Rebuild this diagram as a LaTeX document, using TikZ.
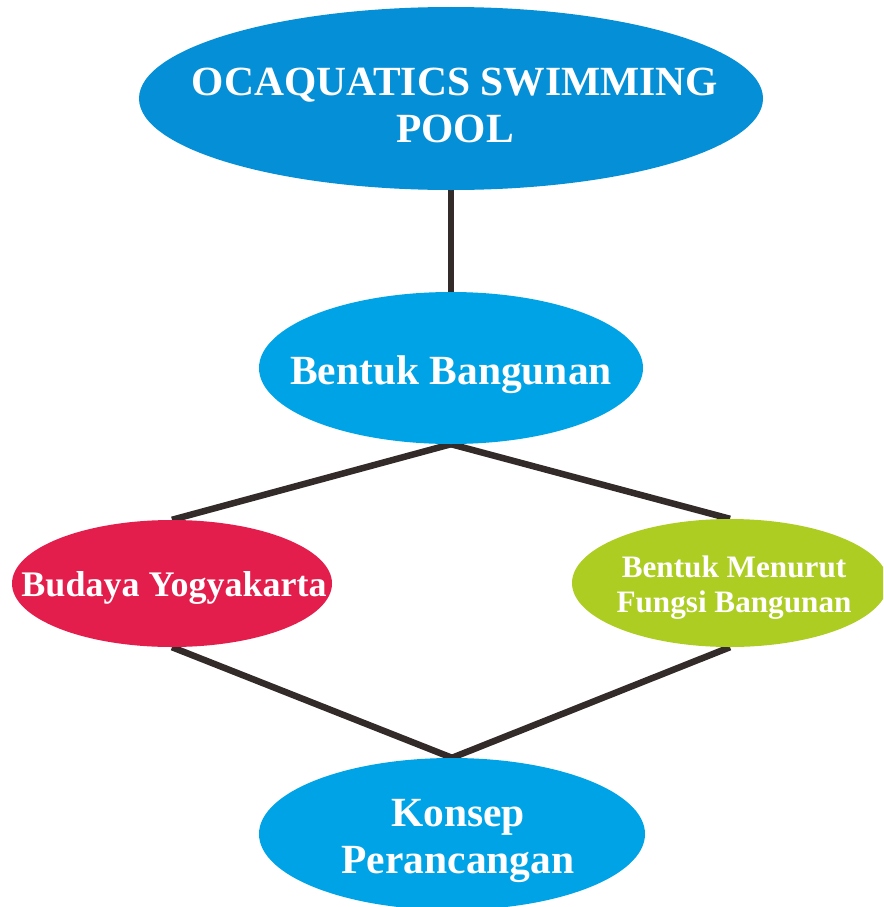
\documentclass[tikz,border=0pt]{standalone}
\usepackage{fontspec}
\setmainfont{Liberation Serif}
\usetikzlibrary{shapes.geometric,backgrounds}
\definecolor{topblue}{HTML}{058FD6}
\definecolor{midblue}{HTML}{00A3E6}
\definecolor{redel}{HTML}{E41E4C}
\definecolor{greenel}{HTML}{ADCD23}
\definecolor{linec}{HTML}{332B29}
\tikzset{
  oval/.style={ellipse, draw=none, inner sep=0pt},
  lbl/.style={text=white, font=\bfseries, anchor=base, inner sep=0pt, align=center},
  conn/.style={draw=linec, line width=6.5pt}
}
\begin{document}
\begin{tikzpicture}[x=1pt,y=-1pt]
\useasboundingbox (0,0) rectangle (883,907);
\clip (0,0) rectangle (883,907);
\node[oval, fill=topblue, minimum width=624pt, minimum height=183pt] (top) at (451,98.5) {};
\node[oval, fill=midblue, minimum width=384pt, minimum height=152pt] (bentuk) at (451,368) {};
\node[oval, fill=redel, minimum width=320pt, minimum height=127pt] (budaya) at (172,583.5) {};
\node[oval, fill=greenel, minimum width=316pt, minimum height=128pt] (fungsi) at (730,583) {};
\node[oval, fill=midblue, minimum width=386pt, minimum height=152pt] (konsep) at (452,834) {};
\begin{pgfonlayer}{background}
\draw[conn] (top.south) -- (bentuk.north);
\draw[conn] (bentuk.south) -- (budaya.north);
\draw[conn] (bentuk.south) -- (fungsi.north);
\draw[conn] (budaya.south) -- (konsep.north);
\draw[conn] (fungsi.south) -- (konsep.north);
\end{pgfonlayer}
\node[lbl, font=\bfseries\fontsize{41.5}{47}\selectfont] (t1) at (455,95) {OCAQUATICS SWIMMING};
\node[lbl, font=\bfseries\fontsize{41.5}{47}\selectfont] (t2) at (455,142) {POOL};
\node[lbl, font=\bfseries\fontsize{41.5}{47}\selectfont] (t3) at (451,384) {Bentuk Bangunan};
\node[lbl, font=\bfseries\fontsize{36}{40}\selectfont] (t4) at (174,596) {Budaya Yogyakarta};
\node[lbl, font=\bfseries\fontsize{31.2}{35}\selectfont] (t5) at (734,577) {Bentuk Menurut};
\node[lbl, font=\bfseries\fontsize{31.2}{35}\selectfont] (t6) at (734,612) {Fungsi Bangunan};
\node[lbl, font=\bfseries\fontsize{41.5}{47}\selectfont] (t7) at (458,826) {Konsep};
\node[lbl, font=\bfseries\fontsize{41.5}{47}\selectfont] (t8) at (458,873) {Perancangan};
\end{tikzpicture}
\end{document}
